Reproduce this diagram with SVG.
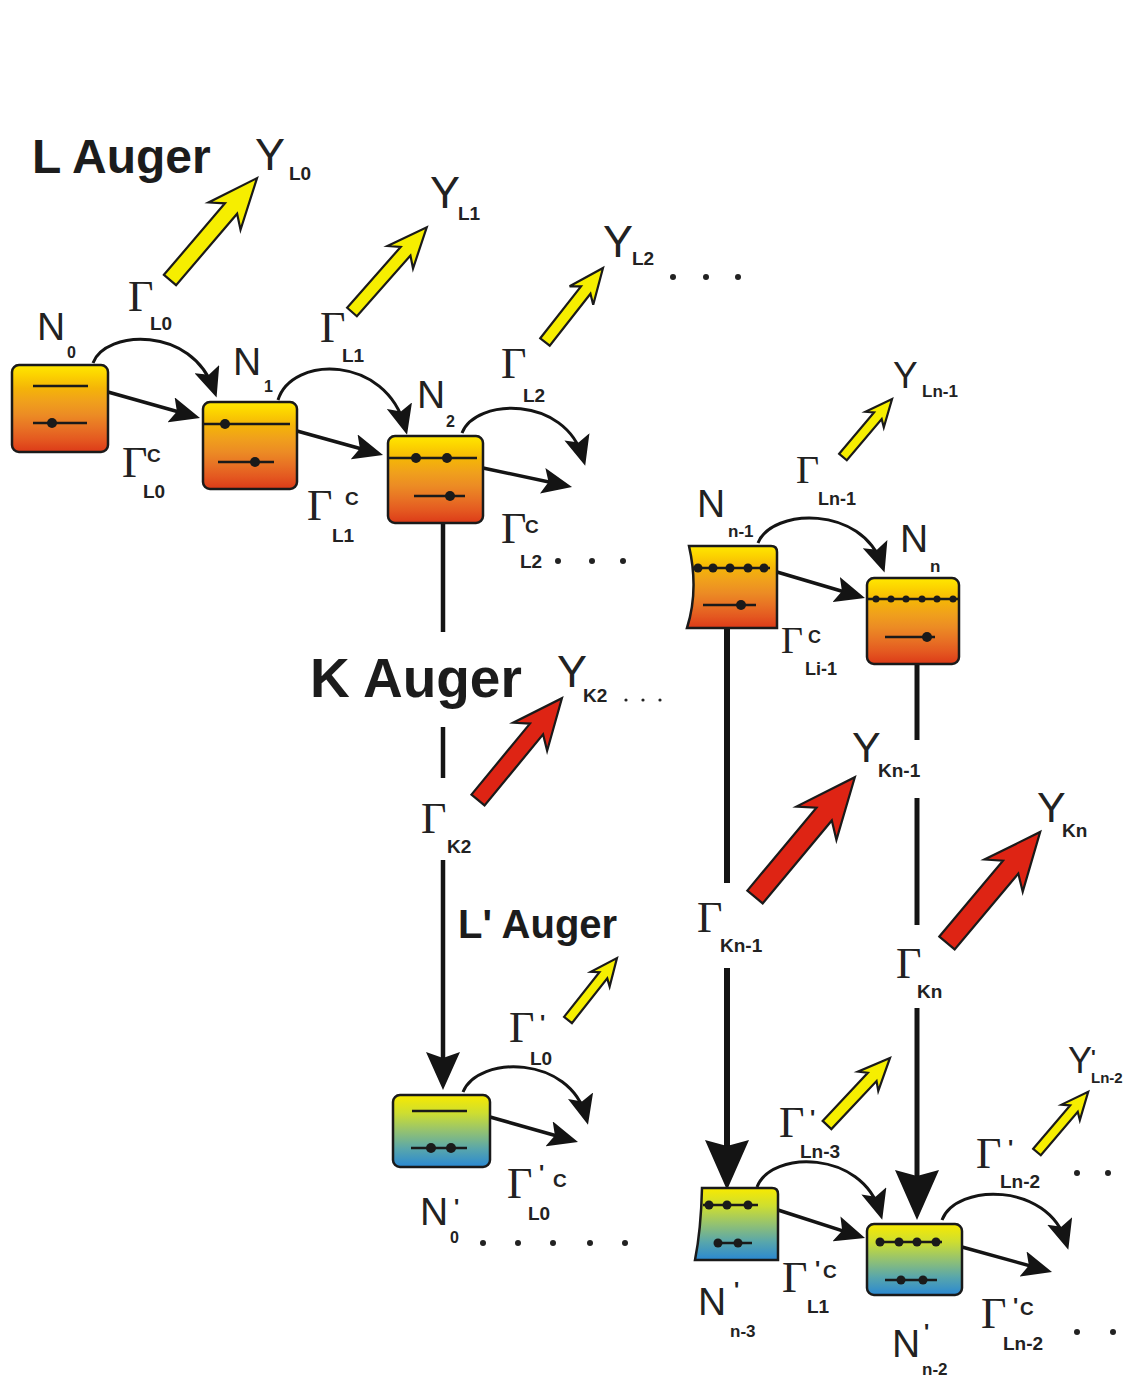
<svg xmlns="http://www.w3.org/2000/svg" width="1130" height="1389" viewBox="0 0 1130 1389">
<defs>
<linearGradient id="gO" x1="0" y1="0" x2="0" y2="1">
<stop offset="0" stop-color="#ffe800"/><stop offset="0.12" stop-color="#fcd200"/><stop offset="0.27" stop-color="#f4b408"/><stop offset="0.42" stop-color="#f0a01c"/><stop offset="0.57" stop-color="#ec8c24"/><stop offset="0.72" stop-color="#e87224"/><stop offset="0.86" stop-color="#e45820"/><stop offset="1" stop-color="#dc3a18"/>
</linearGradient>
<linearGradient id="gB" x1="0" y1="0" x2="0" y2="1">
<stop offset="0" stop-color="#f8ea00"/><stop offset="0.25" stop-color="#cede30"/><stop offset="0.5" stop-color="#94c270"/><stop offset="0.75" stop-color="#58a6ac"/><stop offset="1" stop-color="#2a88d2"/>
</linearGradient>
<marker id="ah" markerUnits="userSpaceOnUse" viewBox="0 0 30 26" markerWidth="30" markerHeight="26" refX="22" refY="13" orient="auto"><path d="M0,0 L30,13 L0,26 L6,13 z" fill="#141414"/></marker>
<marker id="ahK" markerUnits="userSpaceOnUse" viewBox="0 0 38 34" markerWidth="38" markerHeight="34" refX="28" refY="17" orient="auto"><path d="M0,0 L38,17 L0,34 L6,17 z" fill="#141414"/></marker>
<marker id="ahB" markerUnits="userSpaceOnUse" viewBox="0 0 50 44" markerWidth="50" markerHeight="44" refX="38" refY="22" orient="auto"><path d="M0,0 L50,22 L0,44 L6,22 z" fill="#141414"/></marker>
</defs>
<style>
.box{stroke:#1a1a1a;stroke-width:2.5}
.o{fill:url(#gO)}
.b{fill:url(#gB)}
.lv{stroke:#1a1a1a;stroke-width:2.5;fill:none}
.dot{fill:#1a1a1a}
.con{stroke:#141414;fill:none;stroke-width:3.5}
.arc{stroke:#141414;fill:none;stroke-width:3}
.ya{fill:#f6ee00;stroke:#1a1a1a;stroke-width:2.2;stroke-linejoin:miter}
.ra{fill:#de2414;stroke:#1a1a1a;stroke-width:2.2;stroke-linejoin:miter}
.title{font-family:"Liberation Sans",Arial,sans-serif;font-weight:bold;fill:#1c1c1c}
.Y{font-family:"Liberation Sans",Arial,sans-serif;font-size:45px;fill:#222}
.N{font-family:"Liberation Sans",Arial,sans-serif;font-size:39px;fill:#222}
.G{font-family:"Liberation Serif","Times New Roman",serif;font-size:44px;fill:#222}
.s{font-family:"Liberation Sans",Arial,sans-serif;font-weight:bold;font-size:19px;fill:#222}
.p{font-family:"Liberation Sans",Arial,sans-serif;font-weight:bold;font-size:22px;fill:#222}
.d{fill:#222}
</style>
<rect x="0" y="0" width="1130" height="1389" fill="#ffffff"/>

<g id="connectors">
<!-- straight arrows -->
<line class="con" x1="108" y1="392" x2="192.3" y2="415.8" marker-end="url(#ah)"/>
<line class="con" x1="297" y1="431" x2="375.3" y2="452.8" marker-end="url(#ah)"/>
<line class="con" x1="483" y1="468" x2="564.2" y2="485.3" marker-end="url(#ah)"/>
<line class="con" x1="777" y1="572" x2="857.3" y2="595.7" marker-end="url(#ah)"/>
<line class="con" x1="490" y1="1117" x2="570.3" y2="1139.8" marker-end="url(#ah)"/>
<line class="con" x1="778" y1="1210" x2="857.4" y2="1235.6" marker-end="url(#ah)"/>
<line class="con" x1="962" y1="1247" x2="1044.3" y2="1269.8" marker-end="url(#ah)"/>
<!-- curved arrows -->
<path class="arc" d="M93,363 C105,330 192,325 214,390" marker-end="url(#ah)"/>
<path class="arc" d="M278,400 C292,355 386,355 405,427" marker-end="url(#ah)"/>
<path class="arc" d="M462,433 C475,398 565,395 583,458" marker-end="url(#ah)"/>
<path class="arc" d="M758,543 C772,508 862,505 882,565" marker-end="url(#ah)"/>
<path class="arc" d="M463,1092 C478,1055 570,1055 586,1117" marker-end="url(#ah)"/>
<path class="arc" d="M757,1187 C771,1150 862,1150 880,1212" marker-end="url(#ah)"/>
<path class="arc" d="M942,1220 C956,1183 1048,1182 1066,1242" marker-end="url(#ah)"/>
<!-- vertical K decays -->
<line class="con" style="stroke-width:4.5" x1="443" y1="523" x2="443" y2="632"/>
<line class="con" style="stroke-width:4.5" x1="443" y1="727" x2="443" y2="778"/>
<line class="con" style="stroke-width:4.5" x1="443" y1="860" x2="443" y2="1080" marker-end="url(#ahK)"/>
<line class="con" style="stroke-width:6" x1="727" y1="628" x2="727" y2="883"/>
<line class="con" style="stroke-width:6" x1="727" y1="968" x2="727" y2="1178" marker-end="url(#ahB)"/>
<line class="con" style="stroke-width:5" x1="917" y1="664" x2="917" y2="740"/>
<line class="con" style="stroke-width:5" x1="917" y1="798" x2="917" y2="925"/>
<line class="con" style="stroke-width:5" x1="917" y1="1008" x2="917" y2="1208" marker-end="url(#ahB)"/>
<!-- Auger block arrows -->
<path class="ya" transform="translate(170,280) rotate(-49.5)" d="M0,-8 L94,-8 L84,-21 L134,0 L84,21 L94,8 L0,8 Z"/>
<path class="ya" transform="translate(352,312) rotate(-48.6)" d="M0,-6.5 L81,-6.5 L73,-17 L113,0 L73,17 L81,6.5 L0,6.5 Z"/>
<path class="ya" transform="translate(545,342) rotate(-51.9)" d="M0,-6 L66,-6 L59,-15 L94,0 L59,15 L66,6 L0,6 Z"/>
<path class="ya" transform="translate(843,457) rotate(-49.8)" d="M0,-5 L54,-5 L49,-12 L76,0 L49,12 L54,5 L0,5 Z"/>
<path class="ya" transform="translate(568,1020) rotate(-51.7)" d="M0,-5 L57,-5 L52,-12 L79,0 L52,12 L57,5 L0,5 Z"/>
<path class="ya" transform="translate(827,1125) rotate(-46.8)" d="M0,-6 L66,-6 L60,-14 L92,0 L60,14 L66,6 L0,6 Z"/>
<path class="ya" transform="translate(1037,1152) rotate(-49.6)" d="M0,-5 L57,-5 L52,-12 L79,0 L52,12 L57,5 L0,5 Z"/>
<path class="ra" transform="translate(478,800) rotate(-50.5)" d="M0,-8.5 L92,-8.5 L82,-22 L132,0 L82,22 L92,8.5 L0,8.5 Z"/>
<path class="ra" transform="translate(755,897) rotate(-50.2)" d="M0,-10 L108,-10 L96,-26 L156,0 L96,26 L108,10 L0,10 Z"/>
<path class="ra" transform="translate(947,943) rotate(-50)" d="M0,-10 L99,-10 L88,-25 L145,0 L88,25 L99,10 L0,10 Z"/>
</g>

<g id="N0">
<rect class="box o" x="12" y="365" width="96" height="87" rx="7"/>
<line class="lv" x1="33" y1="386" x2="88" y2="386"/>
<line class="lv" x1="33" y1="423" x2="87" y2="423"/>
<circle class="dot" cx="52" cy="423" r="5"/>
<text class="N" x="37" y="340">N</text><text class="s" x="67" y="358" style="font-size:16px">0</text>
</g>
<g id="N1">
<rect class="box o" x="203" y="402" width="94" height="87" rx="7"/>
<line class="lv" x1="204" y1="424" x2="290" y2="424"/>
<circle class="dot" cx="225" cy="424" r="5"/>
<line class="lv" x1="218" y1="462" x2="274" y2="462"/>
<circle class="dot" cx="255" cy="462" r="5"/>
<text class="N" x="233" y="375">N</text><text class="s" x="264" y="392" style="font-size:16px">1</text>
</g>
<g id="N2">
<rect class="box o" x="388" y="436" width="95" height="87" rx="7"/>
<line class="lv" x1="389" y1="458" x2="477" y2="458"/>
<circle class="dot" cx="416" cy="458" r="5"/><circle class="dot" cx="447" cy="458" r="5"/>
<line class="lv" x1="414" y1="496" x2="465" y2="496"/>
<circle class="dot" cx="450" cy="496" r="5"/>
<text class="N" x="417" y="408">N</text><text class="s" x="446" y="427" style="font-size:16px">2</text>
</g>
<g id="Nn-1">
<path class="box o" d="M689,546 L771,546 Q777,546 777,552 L777,628 L687,628 Q699,590 689,546 Z"/>
<line class="lv" x1="692" y1="568" x2="770" y2="568"/>
<circle class="dot" cx="698" cy="568" r="4.5"/><circle class="dot" cx="713" cy="568" r="4.5"/><circle class="dot" cx="730" cy="568" r="4.5"/><circle class="dot" cx="748" cy="568" r="4.5"/><circle class="dot" cx="764" cy="568" r="4.5"/>
<line class="lv" x1="703" y1="605" x2="756" y2="605"/>
<circle class="dot" cx="741" cy="605" r="5"/>
<text class="N" x="697" y="517">N</text><text class="s" x="728" y="537" style="font-size:17px">n-1</text>
</g>
<g id="Nn">
<rect class="box o" x="867" y="578" width="92" height="86" rx="7"/>
<line class="lv" x1="868" y1="599" x2="958" y2="599"/>
<circle class="dot" cx="876" cy="599" r="3.5"/><circle class="dot" cx="891" cy="599" r="3.5"/><circle class="dot" cx="906" cy="599" r="3.5"/><circle class="dot" cx="922" cy="599" r="3.5"/><circle class="dot" cx="937" cy="599" r="3.5"/><circle class="dot" cx="953" cy="599" r="3.5"/>
<line class="lv" x1="885" y1="637" x2="935" y2="637"/>
<circle class="dot" cx="927" cy="637" r="5"/>
<text class="N" x="900" y="552">N</text><text class="s" x="930" y="572" style="font-size:17px">n</text>
</g>
<g id="N0p">
<rect class="box b" x="393" y="1095" width="97" height="72" rx="7"/>
<line class="lv" x1="412" y1="1111" x2="467" y2="1111"/>
<line class="lv" x1="411" y1="1148" x2="467" y2="1148"/>
<circle class="dot" cx="431" cy="1148" r="5"/><circle class="dot" cx="451" cy="1148" r="5"/>
<text class="N" x="420" y="1225">N</text><text class="p" x="454" y="1214">'</text><text class="s" x="450" y="1243" style="font-size:16px">0</text>
</g>
<g id="Nn-3p">
<path class="box b" d="M702,1188 L772,1188 Q778,1188 778,1194 L778,1260 L695,1260 Q701,1230 702,1188 Z"/>
<line class="lv" x1="703" y1="1205" x2="758" y2="1205"/>
<circle class="dot" cx="709" cy="1205" r="4.5"/><circle class="dot" cx="727" cy="1205" r="4.5"/><circle class="dot" cx="748" cy="1205" r="4.5"/>
<line class="lv" x1="715" y1="1243" x2="752" y2="1243"/>
<circle class="dot" cx="718" cy="1243" r="4.5"/><circle class="dot" cx="738" cy="1243" r="4.5"/>
<text class="N" x="698" y="1315">N</text><text class="p" x="734" y="1297">'</text><text class="s" x="730" y="1337" style="font-size:17px">n-3</text>
</g>
<g id="Nn-2p">
<rect class="box b" x="867" y="1224" width="95" height="71" rx="7"/>
<line class="lv" x1="876" y1="1242" x2="942" y2="1242"/>
<circle class="dot" cx="880" cy="1242" r="4.5"/><circle class="dot" cx="899" cy="1242" r="4.5"/><circle class="dot" cx="917" cy="1242" r="4.5"/><circle class="dot" cx="936" cy="1242" r="4.5"/>
<line class="lv" x1="885" y1="1280" x2="937" y2="1280"/>
<circle class="dot" cx="901" cy="1280" r="4.5"/><circle class="dot" cx="923" cy="1280" r="4.5"/>
<text class="N" x="892" y="1357">N</text><text class="p" x="924" y="1339">'</text><text class="s" x="922" y="1375" style="font-size:17px">n-2</text>
</g>

<g id="labels">
<text class="title" x="32" y="173" style="font-size:48px">L Auger</text>
<text class="title" x="310" y="697" style="font-size:55px">K Auger</text>
<text class="title" x="458" y="938" style="font-size:40px">L' Auger</text>

<text class="Y" x="255" y="170">Y</text><text class="s" x="289" y="180">L0</text>
<text class="Y" x="430" y="208">Y</text><text class="s" x="458" y="220">L1</text>
<text class="Y" x="603" y="257">Y</text><text class="s" x="632" y="265">L2</text>
<circle class="d" cx="673" cy="277" r="3"/><circle class="d" cx="706" cy="277" r="3"/><circle class="d" cx="738" cy="277" r="3"/>
<text class="Y" x="893" y="388" style="font-size:37px">Y</text><text class="s" x="922" y="397" style="font-size:17px">Ln-1</text>
<text class="Y" x="557" y="687">Y</text><text class="s" x="583" y="702">K2</text>
<circle class="d" cx="626" cy="700" r="1.6"/><circle class="d" cx="643" cy="700" r="1.6"/><circle class="d" cx="660" cy="700" r="1.6"/>
<text class="Y" x="852" y="762" style="font-size:43px">Y</text><text class="s" x="878" y="777">Kn-1</text>
<text class="Y" x="1037" y="822" style="font-size:43px">Y</text><text class="s" x="1062" y="837">Kn</text>
<text class="Y" x="1068" y="1073" style="font-size:36px">Y</text><text class="p" x="1091" y="1064" style="font-size:20px">'</text><text class="s" x="1091" y="1083" style="font-size:15px">Ln-2</text>

<text class="G" x="128" y="311">Γ</text><text class="s" x="150" y="330">L0</text>
<text class="G" x="122" y="477">Γ</text><text class="s" x="147" y="462">C</text><text class="s" x="143" y="498">L0</text>
<text class="G" x="320" y="342">Γ</text><text class="s" x="342" y="362">L1</text>
<text class="G" x="307" y="520">Γ</text><text class="s" x="345" y="505">C</text><text class="s" x="332" y="542">L1</text>
<text class="G" x="501" y="378">Γ</text><text class="s" x="523" y="402">L2</text>
<text class="G" x="501" y="543">Γ</text><text class="s" x="525" y="533">C</text><text class="s" x="520" y="568">L2</text>
<circle class="d" cx="558" cy="561" r="3"/><circle class="d" cx="592" cy="561" r="3"/><circle class="d" cx="623" cy="561" r="3"/>
<text class="G" x="796" y="483" style="font-size:40px">Γ</text><text class="s" x="818" y="505" style="font-size:18px">Ln-1</text>
<text class="G" x="781" y="653" style="font-size:38px">Γ</text><text class="s" x="808" y="643" style="font-size:18px">C</text><text class="s" x="805" y="675" style="font-size:18px">Li-1</text>
<text class="G" x="421" y="833">Γ</text><text class="s" x="447" y="853">K2</text>
<text class="G" x="697" y="932">Γ</text><text class="s" x="720" y="952">Kn-1</text>
<text class="G" x="896" y="978">Γ</text><text class="s" x="917" y="998">Kn</text>
<text class="G" x="509" y="1042">Γ</text><text class="p" x="540" y="1030">'</text><text class="s" x="530" y="1065">L0</text>
<text class="G" x="507" y="1198">Γ</text><text class="p" x="539" y="1180">'</text><text class="s" x="553" y="1187">C</text><text class="s" x="528" y="1220">L0</text>
<circle class="d" cx="483" cy="1243" r="3"/><circle class="d" cx="518" cy="1243" r="3"/><circle class="d" cx="553" cy="1243" r="3"/><circle class="d" cx="590" cy="1243" r="3"/><circle class="d" cx="625" cy="1243" r="3"/>
<text class="G" x="779" y="1137">Γ</text><text class="p" x="810" y="1125">'</text><text class="s" x="800" y="1158">Ln-3</text>
<text class="G" x="976" y="1168">Γ</text><text class="p" x="1008" y="1155">'</text><text class="s" x="1000" y="1188">Ln-2</text>
<circle class="d" cx="1077" cy="1173" r="3"/><circle class="d" cx="1108" cy="1173" r="3"/>
<text class="G" x="782" y="1292">Γ</text><text class="p" x="815" y="1276">'</text><text class="s" x="823" y="1278">C</text><text class="s" x="807" y="1313">L1</text>
<text class="G" x="981" y="1328">Γ</text><text class="p" x="1013" y="1313">'</text><text class="s" x="1020" y="1315">C</text><text class="s" x="1003" y="1350">Ln-2</text>
<circle class="d" cx="1077" cy="1332" r="3"/><circle class="d" cx="1113" cy="1332" r="3"/>
</g>
</svg>
